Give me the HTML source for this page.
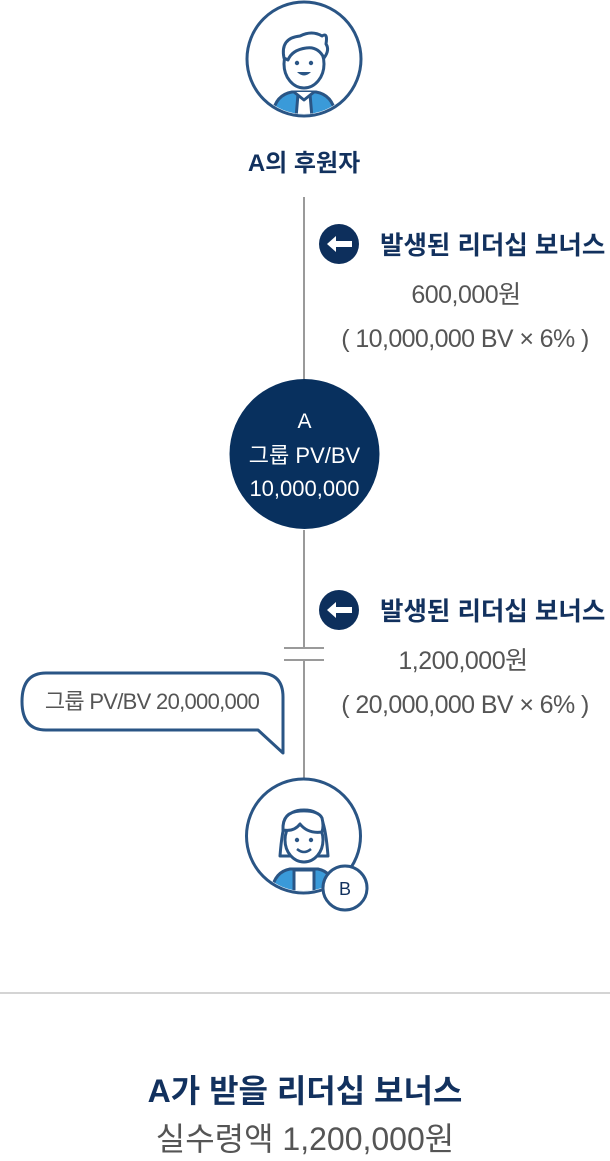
<!DOCTYPE html>
<html><head><meta charset="utf-8"><style>
html,body{margin:0;padding:0;background:#fff;}
svg{display:block;}
text{font-family:"Liberation Sans","Noto Sans CJK KR",sans-serif;}
</style></head><body>
<svg width="610" height="1161" viewBox="0 0 610 1161">
<line x1="304" y1="197" x2="304" y2="380" stroke="#9a9a9a" stroke-width="2"/>
<line x1="304" y1="530" x2="304" y2="778" stroke="#9a9a9a" stroke-width="2"/>
<g>
<rect x="284" y="648" width="40" height="12" fill="#fff"/>
<line x1="284" y1="648" x2="324" y2="648" stroke="#9a9a9a" stroke-width="2"/>
<line x1="284" y1="660" x2="324" y2="660" stroke="#9a9a9a" stroke-width="2"/>
</g>

<g>
<circle cx="304" cy="59" r="57" fill="#fff" stroke="#2a5585" stroke-width="3"/>
<clipPath id="c1"><circle cx="304" cy="59" r="55"/></clipPath>
<g clip-path="url(#c1)" stroke="#2a5585" stroke-width="3" stroke-linejoin="round">
<path d="M272 118 Q274 95 292 92 L316 92 Q334 95 336 118 Z" fill="#3a9ad9"/>
<path d="M298 94 L310 94 L312 118 L296 118 Z" fill="#fff"/>
<path d="M294 92 L304 100 L314 92" fill="#fff"/>
<ellipse cx="304" cy="64" rx="20" ry="24" fill="#fff"/>
<path d="M284 58 Q280 38 300 36 Q312 30 322 36 Q328 32 326 44 Q330 50 324 58 Q318 46 306 48 Q292 50 288 60 Z" fill="#fff"/>
</g>
<circle cx="297" cy="63" r="2.2" fill="#2a5585"/>
<circle cx="311" cy="63" r="2.2" fill="#2a5585"/>
<path d="M297 72 Q304 79 311 72 Z" fill="#2a5585"/>
</g>
<text x="304" y="171" text-anchor="middle" font-size="24" font-weight="bold" fill="#12315e">A의 후원자</text>

<g>
<circle cx="339" cy="244" r="20" fill="#0d2f5c"/>
<path d="M327 244 L336 236 L336 241 L352 241 L352 247 L336 247 L336 252 Z" fill="#fff"/>
</g>
<text x="380" y="254" font-size="25.5" font-weight="bold" fill="#12315e">발생된 리더십 보너스</text>
<text x="466" y="303" text-anchor="middle" font-size="25" fill="#555" letter-spacing="-0.5">600,000원</text>
<text x="465" y="347" text-anchor="middle" font-size="25" fill="#555" letter-spacing="-0.6">( 10,000,000 BV × 6% )</text>

<circle cx="304.5" cy="454" r="75" fill="#08305e"/>
<text x="304.5" y="428" text-anchor="middle" font-size="21" fill="#fff">A</text>
<text x="304.5" y="463" text-anchor="middle" font-size="22" fill="#fff">그룹 PV/BV</text>
<text x="304.5" y="496" text-anchor="middle" font-size="22" fill="#fff">10,000,000</text>

<g>
<circle cx="339" cy="610" r="20" fill="#0d2f5c"/>
<path d="M327 610 L336 602 L336 607 L352 607 L352 613 L336 613 L336 618 Z" fill="#fff"/>
</g>
<text x="380" y="620" font-size="25.5" font-weight="bold" fill="#12315e">발생된 리더십 보너스</text>
<text x="463" y="669" text-anchor="middle" font-size="25" fill="#555" letter-spacing="-0.5">1,200,000원</text>
<text x="465" y="713" text-anchor="middle" font-size="25" fill="#555" letter-spacing="-0.6">( 20,000,000 BV × 6% )</text>

<path d="M46 673 L259 673 Q283 673 283 697 L283 753 L258 730 L46 730 Q22 730 22 701.5 Q22 673 46 673 Z" fill="#fff" stroke="#2a5585" stroke-width="3" stroke-linejoin="round"/>
<text x="152" y="709" text-anchor="middle" font-size="22" fill="#555" letter-spacing="-0.7">그룹 PV/BV 20,000,000</text>

<g>
<circle cx="303.5" cy="836" r="57" fill="#fff" stroke="#2a5585" stroke-width="3"/>
<clipPath id="c2"><circle cx="303.5" cy="836" r="55"/></clipPath>
<g clip-path="url(#c2)" stroke="#2a5585" stroke-width="3" stroke-linejoin="round">
<path d="M271 895 Q273 872 290 869 L318 869 Q334 872 336 895 Z" fill="#3a9ad9"/>
<path d="M294 870 L314 870 L314 895 L294 895 Z" fill="#fff"/>
<path d="M280 856 Q282 830 286 820 Q290 810 304 810 Q318 810 322 820 Q326 830 328 856 Z" fill="#fff"/>
<ellipse cx="304" cy="840" rx="19" ry="22" fill="#fff"/>
<path d="M283 830 Q282 812 300 811 Q318 810 322 818 Q324 826 322 832 Q308 834 300 824 Q294 832 283 830 Z" fill="#fff"/>
</g>
<circle cx="297" cy="840" r="2.2" fill="#2a5585"/>
<circle cx="311" cy="840" r="2.2" fill="#2a5585"/>
<path d="M297 849 Q304 855 311 849" fill="none" stroke="#2a5585" stroke-width="2.5"/>
</g>
<g>
<circle cx="345" cy="888" r="22" fill="#fff" stroke="#2a5585" stroke-width="3"/>
<text x="345" y="895" text-anchor="middle" font-size="18" fill="#12315e">B</text>
</g>

<line x1="0" y1="993" x2="610" y2="993" stroke="#d4d4d4" stroke-width="2"/>

<text x="305" y="1102" text-anchor="middle" font-size="32" font-weight="bold" fill="#12315e">A가 받을 리더십 보너스</text>
<text x="305" y="1150" text-anchor="middle" font-size="32" fill="#555">실수령액 1,200,000원</text>
</svg>
</body></html>
